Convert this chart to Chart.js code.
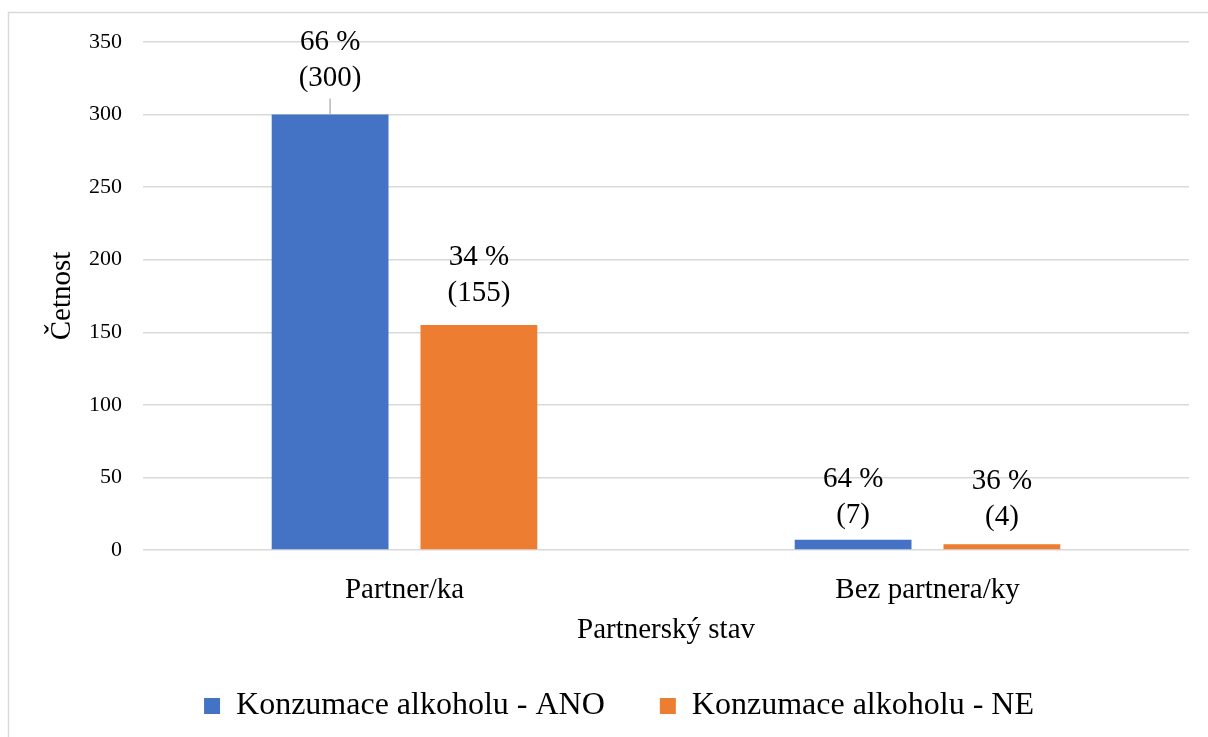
<!DOCTYPE html>
<html>
<head>
<meta charset="utf-8">
<script src="https://cdn.jsdelivr.net/npm/chart.js@4/dist/chart.umd.min.js"></script>
<style>
  html, body { margin: 0; padding: 0; background: #fff; }
  #wrap { width: 1208px; height: 737px; }
</style>
</head>
<body>
<div id="wrap"><canvas id="chart-alkohol"></canvas></div>
<script>
// Chart data
const categories = ['Partner/ka', 'Bez partnera/ky']
const ano_counts = [300, 7]
const ne_counts = [155, 4]
const ano_pct = [66, 64]
const ne_pct = [34, 36]
const y_ticks = [0, 50, 100, 150, 200, 250, 300, 350]

// Color settings
const color_ano = '#4472C4'
const color_ne = '#ED7D31'
const color_grid = '#d9d9d9'
const font_family = "'Liberation Serif', 'Times New Roman', serif"

// outer frame like the Excel chart area
const framePlugin = {
    id: 'frame',
    beforeDraw(chart) {
        const ctx = chart.ctx
        ctx.save()
        ctx.strokeStyle = color_grid
        ctx.lineWidth = 1.5
        ctx.strokeRect(8.5, 12.5, chart.width + 10, chart.height + 10)
        ctx.restore()
    }
}

// data labels: "66 %" over "(300)"
const labelPlugin = {
    id: 'barLabels',
    afterDatasetsDraw(chart, args, opts) {
        const ctx = chart.ctx
        ctx.save()
        ctx.font = '29px ' + font_family
        ctx.fillStyle = '#000'
        ctx.textAlign = 'center'
        ctx.textBaseline = 'middle'
        chart.data.datasets.forEach((ds, di) => {
            const meta = chart.getDatasetMeta(di)
            meta.data.forEach((bar, i) => {
                const lift = opts.lift[di][i]
                const yBottom = bar.y - opts.gap - lift
                ctx.fillText(ds.pct[i] + ' %', bar.x, yBottom - opts.lineHeight)
                ctx.fillText('(' + ds.data[i] + ')', bar.x, yBottom)
                if (opts.leader[di][i]) {
                    // leader line for a moved label
                    ctx.strokeStyle = '#a6a6a6'
                    ctx.lineWidth = 1.2
                    ctx.beginPath()
                    ctx.moveTo(bar.x, yBottom + 20)
                    ctx.lineTo(bar.x, bar.y)
                    ctx.stroke()
                }
            })
        })
        ctx.restore()
    }
}

const data = {
    labels: categories,
    datasets: [{
            label: 'Konzumace alkoholu - ANO',
            data: ano_counts,
            pct: ano_pct,
            backgroundColor: color_ano,
        },
        {
            label: 'Konzumace alkoholu - NE',
            data: ne_counts,
            pct: ne_pct,
            backgroundColor: color_ne,
        },
    ]
}

// Chart settings
const config = {
    type: 'bar',
    data: data,
    plugins: [framePlugin, labelPlugin],
    options: {
        responsive: true,
        maintainAspectRatio: false,
        animation: false,
        categoryPercentage: 0.569,
        barPercentage: 0.785,
        layout: {
            padding: {left: 49, right: 19, top: 42, bottom: 5},
        },
        plugins: {
            tooltip: {enabled: false},
            barLabels: {
                gap: 29,
                lineHeight: 36,
                lift: [[7, -5], [3, -2]],
                leader: [[true, false], [false, false]],
            },
            legend: {
                position: 'bottom',
                onClick: null,
                labels: {
                    boxWidth: 16,
                    boxHeight: 16,
                    padding: 55,
                    color: '#000',
                    font: {family: font_family, size: 32},
                },
            },
        },
        scales: {
            x: {
                grid: {display: false},
                border: {display: false},
                ticks: {
                    color: '#000',
                    padding: 15,
                    font: {family: font_family, size: 29},
                },
                title: {
                    display: true,
                    text: 'Partnerský stav',
                    color: '#000',
                    font: {family: font_family, size: 29, lineHeight: 0.3},
                    padding: {top: 0, bottom: 0},
                },
                afterFit: function (scale) {
                    scale.height = 85
                },
            },
            y: {
                min: 0,
                max: 350,
                afterBuildTicks: function (scale) {
                    scale.ticks = y_ticks.map(v => ({value: v}))
                },
                grid: {
                    color: color_grid,
                    lineWidth: 1.4,
                    drawTicks: false,
                },
                border: {display: false},
                ticks: {
                    color: '#000',
                    padding: 21,
                    font: {family: font_family, size: 22},
                },
                title: {
                    display: true,
                    text: 'Četnost',
                    color: '#000',
                    font: {family: font_family, size: 29, lineHeight: 0.9},
                    padding: {top: 0, bottom: 0},
                },
                afterFit: function (scale) {
                    scale.width = 94
                },
            },
        },
    }
}

const context = document.getElementById('chart-alkohol').getContext('2d')
const chart = new Chart(context, config)
</script>
</body>
</html>
